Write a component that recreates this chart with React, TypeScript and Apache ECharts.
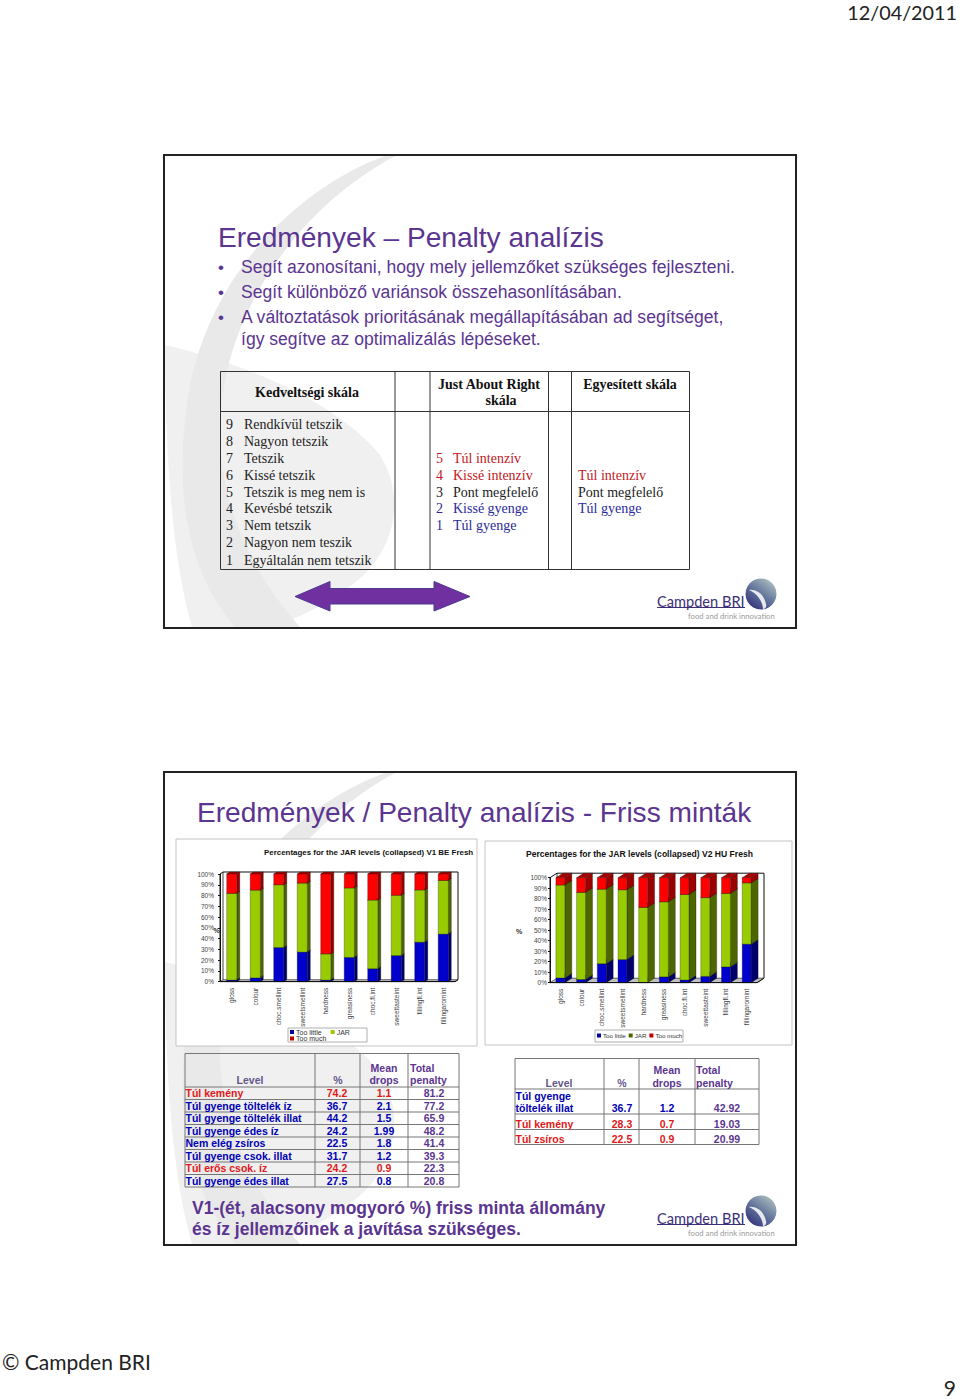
import React, { useEffect, useRef } from "react";
import * as echarts from "echarts";

const categories = ["gloss", "colour", "choc.smellint", "sweetsmellint", "hardness", "greasiness", "choc.fl.int", "sweettasteint", "fillingfl.int", "fillingaromint"];
const yTicks = [0, 10, 20, 30, 40, 50, 60, 70, 80, 90, 100];
const v1TooLittle = [1.5, 3.5, 31.7, 27.5, 1.5, 22.5, 12, 24.2, 36.7, 44.2];
const v1Jar = [80.5, 81.5, 58.3, 64, 24.3, 64.5, 63.8, 56, 48.5, 49.8];
const v1TooMuch = [18, 15, 10, 8.5, 74.2, 13, 24.2, 19.8, 14.8, 6];
const v2TooLittle = [4.5, 3, 18, 22, 0, 5.5, 2.5, 6, 15, 36.7];
const v2Jar = [88.5, 83, 71, 66.5, 71.7, 71.5, 81.5, 75, 70, 58.3];
const v2TooMuch = [7, 14, 11, 11.5, 28.3, 23, 16, 19, 15, 5];

const likingRows = [["9", "Rendkívül tetszik"], ["8", "Nagyon tetszik"], ["7", "Tetszik"], ["6", "Kissé tetszik"], ["5", "Tetszik is meg nem is"], ["4", "Kevésbé tetszik"], ["3", "Nem tetszik"], ["2", "Nagyon nem teszik"], ["1", "Egyáltalán nem tetszik"]];
const jarRows = [["5", "Túl intenzív"], ["4", "Kissé intenzív"], ["3", "Pont megfelelő"], ["2", "Kissé gyenge"], ["1", "Túl gyenge"]];
const combinedRows = ["Túl intenzív", "Pont megfelelő", "Túl gyenge"];
const bullets = ["Segít azonosítani, hogy mely jellemzőket szükséges fejleszteni.", "Segít különböző variánsok összehasonlításában.", "A változtatások prioritásának megállapításában ad segítséget,"];
const penaltyV1 = [
  ["Túl kemény", "74.2", "1.1", "81.2", "r"], ["Túl gyenge töltelék íz", "36.7", "2.1", "77.2", "b"], ["Túl gyenge töltelék illat", "44.2", "1.5", "65.9", "b"], ["Túl gyenge édes íz", "24.2", "1.99", "48.2", "b"],
  ["Nem elég zsíros", "22.5", "1.8", "41.4", "b"], ["Túl gyenge csok. illat", "31.7", "1.2", "39.3", "b"], ["Túl erős csok. íz", "24.2", "0.9", "22.3", "r"], ["Túl gyenge édes illat", "27.5", "0.8", "20.8", "b"],
];
const penaltyV2 = [["Túl kemény", "28.3", "0.7", "19.03", "r"], ["Túl zsíros", "22.5", "0.9", "20.99", "r"]];

const SANS = "Liberation Sans";
const SERIF = "Liberation Serif";
const PURPLE = "#5b3590";
const RED = "#e01818";
const BLUE = "#0000b4";

echarts.graphic.registerShape("swooshA", echarts.graphic.extendPath("M385 156 C 305 185 215 265 190 385 C 174 480 182 565 235 627 L 300 627 C 240 560 212 480 222 400 C 232 310 295 210 395 156 Z", {}));
echarts.graphic.registerShape("swooshB", echarts.graphic.extendPath("M165 345 C 240 362 335 400 380 455 C 405 495 398 550 352 585 C 325 605 295 620 270 627 L 192 627 C 172 560 165 450 165 345 Z", {}));
echarts.graphic.registerShape("logoSwoosh", echarts.graphic.extendPath("M-11 -4 C -4 -5 4 0 6 10 C 7 13 5 15 3 15 C 3 8 -3 -1 -11 -4 Z", {}));

function txt(text: string, x: number, y: number, size: number, color: string, family = SANS, weight: any = "normal", align = "left", extra: any = {}) {
  return { type: "text", x, y, z: 3, style: { text, fill: color, fontFamily: family, fontSize: size, fontWeight: weight, textAlign: align, textVerticalAlign: "middle", align, verticalAlign: "middle", ...extra } };
}
function line(x1: number, y1: number, x2: number, y2: number, color = "#333", lineWidth = 1) {
  return { type: "line", z: 2, shape: { x1, y1, x2, y2 }, style: { stroke: color, lineWidth } };
}
function frameRect(x: number, y: number, width: number, height: number, stroke: string, lineWidth: number, fill: any = "transparent", z = 1) {
  return { type: "rect", z, shape: { x, y, width, height }, style: { fill, stroke, lineWidth } };
}
function logo(dy: number) {
  return [
    txt("Campden BRI", 657, 601 + dy, 14.6, "#3c2f78", "Lato"),
    line(657, 607.5 + dy, 745, 607.5 + dy, "#3c2f78", 1),
    { type: "circle", z: 2, shape: { cx: 761, cy: 594 + dy, r: 15.5 }, style: { fill: new echarts.graphic.LinearGradient(0.85, 0, 0.1, 1, [{ offset: 0, color: "#b2c4c2" }, { offset: 0.5, color: "#62749a" }, { offset: 1, color: "#2f2a78" }]) } },
    { type: "logoSwoosh", z: 3, x: 760, y: 594 + dy, style: { fill: "#ffffff", opacity: 0.85 } },
    txt("food and drink innovation", 688, 616 + dy, 7.7, "#9a9a9a", "Lato", "normal", "left"),
  ];
}
function penaltyValues(row: string[], y: number, c1: number, c2: number, c3: number, size: number) {
  const col = row[4] === "r" ? RED : BLUE;
  return [txt(row[1], c1, y, size, col, SANS, "bold", "center"), txt(row[2], c2, y, size, col, SANS, "bold", "center"), txt(row[3], c3, y, size, PURPLE, SANS, "bold", "center")];
}

function buildGraphic() {
  const els: any[] = [];
  // page furniture
  els.push(txt("12/04/2011", 957, 12, 19.8, "#222", "Lato", "normal", "right"));
  els.push(txt("© Campden BRI", 2, 1361, 21, "#222", "Lato"));
  els.push(txt("9", 956, 1387, 21, "#222", "Lato", "normal", "right"));
  // slide backgrounds
  for (const dy of [0, 617]) {
    els.push({ type: "swooshB", z: 0, x: 0, y: dy, style: { fill: "#f0f0f0" } });
    els.push({ type: "swooshA", z: 0, x: 0, y: dy, style: { fill: "#e9e9e9" } });
    els.push(frameRect(164, 155 + dy, 632, 473, "#222", 2));
    els.push(...logo(dy));
  }
  // slide 1
  els.push(txt("Eredmények – Penalty analízis", 218, 237, 28.1, PURPLE));
  const bulletYs = [267, 292, 317];
  bullets.forEach((b, i) => {
    els.push(txt("•", 218, bulletYs[i], 17, PURPLE));
    els.push(txt(b, 241, bulletYs[i], 17.57, PURPLE));
  });
  els.push(txt("így segítve az optimalizálás lépéseket.", 241, 339, 17.57, PURPLE));
  els.push(frameRect(220.5, 371.5, 469, 198, "#333", 1, "transparent", 2));
  for (const x of [395, 430, 548.5, 571.5]) els.push(line(x, 371.5, x, 569.5));
  els.push(line(220.5, 411.5, 689.5, 411.5));
  els.push(txt("Kedveltségi skála", 307, 392, 14, "#111", SERIF, "bold", "center"));
  els.push(txt("Just About Right", 489, 384, 14, "#111", SERIF, "bold", "center"));
  els.push(txt("skála", 501, 400, 14, "#111", SERIF, "bold", "center"));
  els.push(txt("Egyesített skála", 630, 384, 14, "#111", SERIF, "bold", "center"));
  const rowY = [424, 441, 458, 475, 492, 508, 525, 542, 560];
  likingRows.forEach((r, i) => {
    els.push(txt(r[0], 226, rowY[i], 14, "#222", SERIF));
    els.push(txt(r[1], 244, rowY[i], 14, "#222", SERIF));
  });
  const jarCol = ["#c01824", "#c01824", "#222", "#2a2a9c", "#2a2a9c"];
  jarRows.forEach((r, i) => {
    els.push(txt(r[0], 436, rowY[i + 2], 14, jarCol[i], SERIF));
    els.push(txt(r[1], 453, rowY[i + 2], 14, jarCol[i], SERIF));
  });
  const combCol = ["#c01824", "#222", "#2a2a9c"];
  combinedRows.forEach((r, i) => els.push(txt(r, 578, rowY[i + 3], 14, combCol[i], SERIF)));
  els.push({ type: "polygon", z: 2, shape: { points: [[295, 596.5], [330, 581.5], [330, 588.5], [434, 588.5], [434, 581.5], [470, 596.5], [434, 611], [434, 604], [330, 604], [330, 611]] }, style: { fill: "#7030a0", stroke: "#4a3a90", lineWidth: 1 } });
  // slide 2
  els.push(txt("Eredmények / Penalty analízis - Friss minták", 197, 812, 28.1, PURPLE));
  els.push(frameRect(176, 839, 301, 207, "#c4c4c4", 1, "#ffffff"));
  els.push(frameRect(485, 841, 307, 204, "#c4c4c4", 1, "#ffffff"));
  els.push(frameRect(288, 1028, 79, 14, "#b0b0b0", 1, "#ffffff"));
  els.push(frameRect(595, 1030, 88, 12, "#b0b0b0", 1, "#ffffff"));
  els.push(txt("Percentages for the JAR levels (collapsed) V1 BE Fresh", 264, 852.5, 7.93, "#111", SANS, "bold"));
  els.push(txt("Percentages for the JAR levels (collapsed) V2 HU Fresh", 526, 854, 8.58, "#111", SANS, "bold"));
  els.push(txt("%", 216.5, 930, 7, "#333", SANS, "bold", "center"));
  els.push(txt("%", 519, 931, 7, "#333", SANS, "bold", "center"));
  // table V1
  const t1x = [185, 315, 360, 408, 459];
  for (const x of t1x) els.push(line(x, 1053.5, x, 1187, "#777"));
  const t1h = [1053.5, 1087, 1099.5, 1112, 1124.5, 1137, 1149.5, 1162, 1174.5, 1187];
  t1h.forEach((y) => els.push(line(185, y, 459, y, "#777")));
  els.push(txt("Level", 250, 1080, 10.5, "#62568c", SANS, "bold", "center"));
  els.push(txt("%", 338, 1080, 10.5, "#62568c", SANS, "bold", "center"));
  els.push(txt("Mean", 384, 1067.5, 10.5, PURPLE, SANS, "bold", "center"));
  els.push(txt("drops", 384, 1080, 10.5, PURPLE, SANS, "bold", "center"));
  els.push(txt("Total", 410, 1067.5, 10.5, PURPLE, SANS, "bold"));
  els.push(txt("penalty", 410, 1080, 10.5, PURPLE, SANS, "bold"));
  penaltyV1.forEach((r, i) => {
    const y = 1093 + i * 12.5;
    els.push(txt(r[0], 185.5, y, 10.5, r[4] === "r" ? RED : BLUE, SANS, "bold"));
    els.push(...penaltyValues(r, y, 337, 384, 434, 10.5));
  });
  // table V2
  const t2x = [515, 604, 639, 695, 759];
  for (const x of t2x) els.push(line(x, 1058.5, x, 1144.5, "#777"));
  [1058.5, 1089, 1114, 1129.5, 1144.5].forEach((y) => els.push(line(515, y, 759, y, "#777")));
  els.push(txt("Level", 559, 1083, 10.5, "#62568c", SANS, "bold", "center"));
  els.push(txt("%", 622, 1083, 10.5, "#62568c", SANS, "bold", "center"));
  els.push(txt("Mean", 667, 1070, 10.5, PURPLE, SANS, "bold", "center"));
  els.push(txt("drops", 667, 1083, 10.5, PURPLE, SANS, "bold", "center"));
  els.push(txt("Total", 696, 1070, 10.5, PURPLE, SANS, "bold"));
  els.push(txt("penalty", 696, 1083, 10.5, PURPLE, SANS, "bold"));
  els.push(txt("Túl gyenge", 515.5, 1096, 10.5, BLUE, SANS, "bold"));
  els.push(txt("töltelék illat", 515.5, 1108, 10.5, BLUE, SANS, "bold"));
  els.push(...penaltyValues(["", "36.7", "1.2", "42.92", "b"], 1108, 622, 667, 727, 10.5));
  penaltyV2.forEach((r, i) => {
    const y = [1123.5, 1139][i];
    els.push(txt(r[0], 515.5, y, 10.5, RED, SANS, "bold"));
    els.push(...penaltyValues(r, y, 622, 667, 727, 10.5));
  });
  els.push(txt("V1-(ét, alacsony mogyoró %) friss minta állomány", 192, 1208, 17.5, PURPLE, SANS, "bold"));
  els.push(txt("és íz jellemzőinek a javítása szükséges.", 192, 1229, 17.5, PURPLE, SANS, "bold"));
  return els;
}

function segments(low: number[], mid: number[], high: number[]) {
  const toRows = (base: number[], vals: number[]) => vals.map((v, i) => [i, base[i], base[i] + v]);
  const z = low.map(() => 0);
  const a = low;
  const b = low.map((v, i) => v + mid[i]);
  return [toRows(z, low), toRows(a, mid), toRows(b, high)];
}

function barSeries(name: string, data: number[][], gi: number, front: string, side: string, top: string, dx: number, dy: number, ratio: number) {
  return {
    type: "custom", name, xAxisIndex: gi, yAxisIndex: gi, data, clip: false, z: 4,
    itemStyle: { color: front },
    encode: { x: 0, y: [1, 2] },
    renderItem: (_: any, api: any) => {
      const i = api.value(0);
      const s = api.value(1), e = api.value(2);
      const b = api.coord([i, s]);
      const t = api.coord([i, e]);
      const w = api.size([1, 0])[0] * ratio;
      const x0 = b[0] - w / 2, x1 = b[0] + w / 2;
      if (e - s <= 0) return { type: "group", children: [] };
      return {
        type: "group",
        children: [
          { type: "polygon", shape: { points: [[x1, b[1]], [x1 + dx, b[1] - dy], [x1 + dx, t[1] - dy], [x1, t[1]]] }, style: { fill: side, stroke: "#111", lineWidth: 0.3 } },
          { type: "polygon", shape: { points: [[x0, t[1]], [x0 + dx, t[1] - dy], [x1 + dx, t[1] - dy], [x1, t[1]]] }, style: { fill: top, stroke: "#111", lineWidth: 0.3 } },
          { type: "rect", shape: { x: x0, y: t[1], width: w, height: b[1] - t[1] }, style: { fill: front, stroke: "#111", lineWidth: 0.3 } },
        ],
      };
    },
  };
}

function wallSeries(gi: number, dx: number, dy: number) {
  return {
    type: "custom", name: "wall" + gi, xAxisIndex: gi, yAxisIndex: gi, data: [[0, 0, 100]], clip: false, z: 3, silent: true,
    encode: { x: 0, y: [1, 2] },
    renderItem: (_: any, api: any) => {
      const band = api.size([1, 0])[0];
      const a = api.coord([0, 0]);
      const c = api.coord([9, 100]);
      const l = a[0] - band / 2, r = c[0] + band / 2, bot = a[1], tp = c[1];
      return {
        type: "group",
        children: [
          { type: "polygon", shape: { points: [[l, bot], [l + dx, bot - dy], [r + dx, bot - dy], [r, bot]] }, style: { fill: "#c0c0c0", stroke: "#111", lineWidth: 0.6 } },
          { type: "polyline", shape: { points: [[l, bot], [l, tp], [l + dx, tp - dy], [r + dx, tp - dy], [r + dx, bot - dy], [r, bot]] }, style: { fill: "none", stroke: "#111", lineWidth: 1 } },
          { type: "line", shape: { x1: l + dx, y1: tp - dy, x2: l + dx, y2: bot - dy }, style: { stroke: "#111", lineWidth: 0.8 } },
        ],
      };
    },
  };
}

function yAxis(gi: number, margin: number) {
  return {
    type: "value", gridIndex: gi, min: yTicks[0], max: yTicks[yTicks.length - 1], interval: 10, z: 5,
    splitLine: { show: false },
    axisLine: { show: true, lineStyle: { color: "#111", width: 1 } },
    axisTick: { show: true, length: 2, lineStyle: { color: "#111" } },
    axisLabel: { formatter: "{value}%", fontSize: 6.5, fontFamily: SANS, color: "#444", margin },
  };
}
function xAxis(gi: number) {
  return {
    type: "category", gridIndex: gi, data: categories, z: 5,
    axisLine: { show: true, lineStyle: { color: "#111", width: 1 } },
    axisTick: { show: false },
    axisLabel: { rotate: 90, interval: 0, fontSize: 6.5, fontFamily: SANS, color: "#444", margin: 6 },
  };
}
const swatch = (name: string, color: string) => ({ name, icon: "rect", itemStyle: { color } });
function legend(left: number, top: number, itemGap: number, size: number, data: any[]) {
  return {
    left, top, orient: "horizontal", itemWidth: 4, itemHeight: 4, itemGap, padding: 0, z: 6,
    textStyle: { fontSize: size, fontFamily: SANS, color: "#333", padding: [0, 0, 0, -3] },
    data,
  };
}

export default function App() {
  const ref = useRef<HTMLDivElement>(null);
  useEffect(() => {
    const chart = echarts.init(ref.current!, null, { renderer: "svg" });
    const s1 = segments(v1TooLittle, v1Jar, v1TooMuch);
    const s2 = segments(v2TooLittle, v2Jar, v2TooMuch);
    chart.setOption({
      animation: false,
      backgroundColor: "#ffffff",
      graphic: { elements: buildGraphic() },
      grid: [
        { left: 220, top: 874, width: 235, height: 107.7, containLabel: false },
        { left: 550, top: 877.7, width: 207, height: 105, containLabel: false },
      ],
      xAxis: [xAxis(0), xAxis(1)],
      yAxis: [yAxis(0, 6), yAxis(1, 3)],
      legend: [
        legend(290, 1028.5, 9, 7, [swatch("Too little", "#0000a0"), swatch("JAR", "#9acc00")]),
        legend(290, 1035, 9, 7, [swatch("Too much", "#c00000")]),
        legend(597, 1032.5, 3, 6.2, [swatch("Too little", "#0000a0"), swatch("JAR", "#4d6600"), swatch("Too much", "#c00000")]),
      ],
      series: [
        wallSeries(0, 3, 2),
        barSeries("Too little", s1[0], 0, "#0000cc", "#00006a", "#00006a", 3, 2, 0.43),
        barSeries("JAR", s1[1], 0, "#99cc00", "#4d6600", "#4d6600", 3, 2, 0.43),
        barSeries("Too much", s1[2], 0, "#ff0000", "#9a0000", "#a80000", 3, 2, 0.43),
        wallSeries(1, 7, 4.5),
        barSeries("Too little", s2[0], 1, "#0000cc", "#00006a", "#00006a", 7, 4.5, 0.43),
        barSeries("JAR", s2[1], 1, "#99cc00", "#4d6600", "#4d6600", 7, 4.5, 0.43),
        barSeries("Too much", s2[2], 1, "#ff0000", "#9a0000", "#a80000", 7, 4.5, 0.43),
      ],
    });
    return () => chart.dispose();
  }, []);
  return <div ref={ref} style={{ position: "absolute", left: 0, top: 0, width: 960, height: 1399 }} />;
}
